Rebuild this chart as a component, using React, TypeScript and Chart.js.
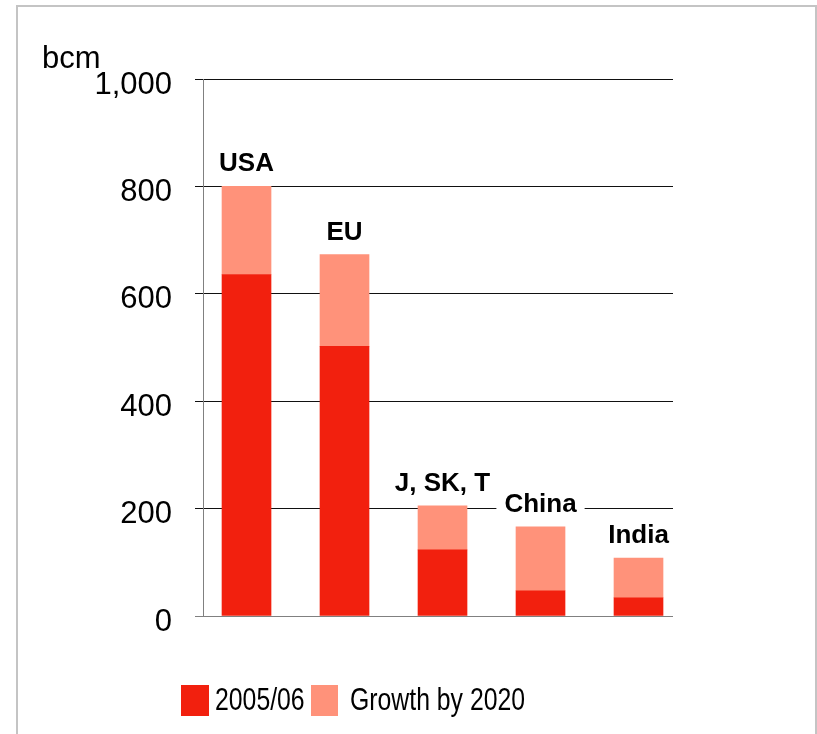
import React, { useEffect, useRef } from "react";
import { Chart, registerables } from "chart.js";

Chart.register(...registerables);

const categories = ["USA", "EU", "J, SK, T", "China", "India"];
const base2005 = [636, 502, 123, 47, 34];
const growth2020 = [164, 171, 82, 119, 74];
const seriesNames = ["2005/06", "Growth by 2020"];
const yTicks = [0, 200, 400, 600, 800, 1000];
const unitLabel = "bcm";

const RED = "#F2200E";
const SALMON = "#FF927A";
const FONT = '"Liberation Sans", Arial, Helvetica, sans-serif';

const labelsPlugin = {
  id: "barLabels",
  afterDatasetsDraw(chart: any) {
    const ctx = chart.ctx;
    const meta = chart.getDatasetMeta(1);
    ctx.save();
    ctx.font = `bold 26px ${FONT}`;
    meta.data.forEach((el: any, i: number) => {
      const { x, y } = el.getProps(["x", "y"], true);
      const text = categories[i];
      const w = ctx.measureText(text).width;
      const by = y - 15;
      ctx.fillStyle = "#fff";
      ctx.fillRect(x - w / 2 - 8, by - 22, w + 16, 28);
      ctx.fillStyle = "#000";
      ctx.textAlign = "center";
      ctx.textBaseline = "alphabetic";
      ctx.fillText(text, x, by);
    });
    ctx.font = `31px ${FONT}`;
    ctx.fillStyle = "#000";
    ctx.textAlign = "left";
    ctx.textBaseline = "alphabetic";
    ctx.fillText(unitLabel, 42, 68);
    ctx.restore();
  },
};

export default function App() {
  const ref = useRef<HTMLCanvasElement>(null);
  useEffect(() => {
    if (!ref.current) return;
    const chart = new Chart(ref.current, {
      type: "bar",
      data: {
        datasets: [
          {
            label: seriesNames[0],
            data: base2005.map((v, i) => ({ x: i, y: v })),
            backgroundColor: RED,
            barThickness: 49,
          },
          {
            label: seriesNames[1],
            data: growth2020.map((v, i) => ({ x: i, y: v })),
            backgroundColor: SALMON,
            barThickness: 49,
          },
        ],
      },
      options: {
        responsive: false,
        animation: false,
        layout: { padding: { left: 0, top: 79, right: 144, bottom: 118 } },
        plugins: { legend: { display: false }, tooltip: { enabled: false } },
        scales: {
          x: {
            type: "linear",
            stacked: true,
            display: false,
            offset: false,
            min: -0.444,
            max: 4.352,
            grid: { offset: false },
          },
          y: {
            stacked: true,
            min: 0,
            max: 1000,
            afterBuildTicks: (scale: any) => {
              scale.ticks = yTicks.map((v) => ({ value: v }));
            },
            afterFit: (scale: any) => {
              scale.width = 203;
            },
            border: { display: true, color: "#808080", width: 1 },
            grid: {
              color: (c: any) => (c.tick && c.tick.value === 0 ? "#808080" : "#111"),
              lineWidth: 1,
              tickLength: 8,
              drawTicks: true,
            },
            ticks: {
              padding: 23,
              labelOffset: 6,
              color: "#000",
              font: { size: 31, family: FONT },
              callback: (v: any) => Number(v).toLocaleString("en-US"),
            },
          },
        },
      },
      plugins: [labelsPlugin],
    });
    return () => chart.destroy();
  }, []);

  const textStyle: React.CSSProperties = {
    position: "absolute",
    top: 684,
    fontFamily: FONT,
    fontSize: 31,
    lineHeight: "31px",
    color: "#000",
    whiteSpace: "nowrap",
    transform: "scaleX(0.8)",
    transformOrigin: "left top",
  };

  return (
    <div style={{ position: "absolute", left: 0, top: 0, width: 817, height: 734, overflow: "hidden", background: "#fff" }}>
      <canvas ref={ref} width={817} height={734} style={{ position: "absolute", left: 0, top: 0 }} />
      <div
        style={{
          position: "absolute",
          left: 16,
          top: 5,
          width: 801,
          height: 760,
          border: "2px solid #c4c4c4",
          boxSizing: "border-box",
          pointerEvents: "none",
        }}
      />
      <div style={{ position: "absolute", left: 181, top: 685, width: 28, height: 31, background: RED }} />
      <div style={{ ...textStyle, left: 215 }}>{seriesNames[0]}</div>
      <div style={{ position: "absolute", left: 311, top: 685, width: 27, height: 31, background: SALMON }} />
      <div style={{ ...textStyle, left: 350 }}>{seriesNames[1]}</div>
    </div>
  );
}
